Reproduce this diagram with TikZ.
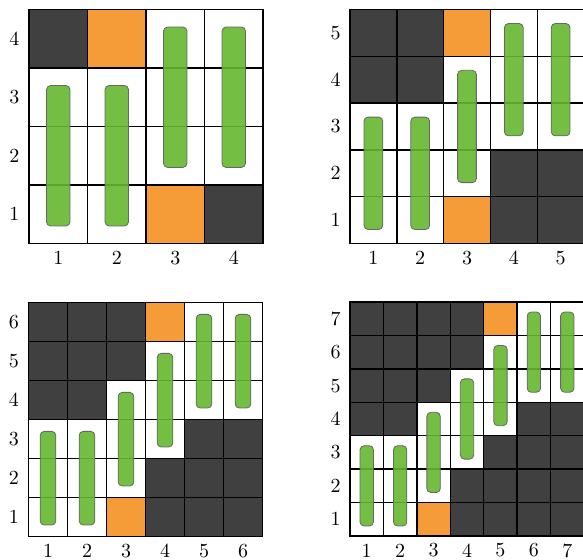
\documentclass[tikz,border=0pt]{standalone}
\usepackage{tikz}
\definecolor{darkcell}{HTML}{404040}
\definecolor{orangecell}{HTML}{F59B38}
\definecolor{barfill}{HTML}{64B82F}
\tikzset{
  cell0/.style={draw=black, fill=white, line width=0.7pt},
  cell1/.style={draw=black, fill=orangecell, line width=0.7pt},
  cell2/.style={draw=black, fill=darkcell, line width=0.7pt},
  greenbar/.style={draw=gray!80!black, fill=barfill, fill opacity=0.9, line width=0.4pt, rounded corners=2pt},
  axislabel/.style={font=\normalsize, inner sep=0pt}
}

\begin{document}
\begin{tikzpicture}[x=0.5pt, y=0.5pt]
  \useasboundingbox (0,0) rectangle (583,560);
  % one board per size: n, lower left corner
  \foreach \n/\ox/\oy in {4/29/316.5, 5/350/316.5, 6/28.5/23.3, 7/350/24}{
    \begin{scope}[shift={(\ox,\oy)}]
      \pgfmathsetmacro\cellsz{234/\n}
      \foreach \c in {1,...,\n}{
        \pgfmathtruncatemacro\srow{\c<=2 ? 1 : (\c>=\n-1 ? \n-2 : \c-1)}
        \foreach \r in {1,...,\n}{
          \pgfmathtruncatemacro\kind{(\r>=\srow && \r<=\srow+2) ? 0 : (((\c==3 && \r==1) || (\c==\n-2 && \r==\n)) ? 1 : 2)}
          \draw[cell\kind] ({(\c-1)*\cellsz},{(\r-1)*\cellsz}) rectangle ({\c*\cellsz},{\r*\cellsz});
        }
        \draw[greenbar] ({(\c-0.7)*\cellsz},{(\srow-0.7)*\cellsz}) rectangle ({(\c-0.3)*\cellsz},{(\srow+1.7)*\cellsz});
        \node[axislabel] (g\n-col\c) at ({(\c-0.5)*\cellsz},-14.5) {\c};
      }
      \foreach \r in {1,...,\n}
        \node[axislabel] (g\n-row\r) at (-14.5,{(\r-0.5)*\cellsz}) {\r};
    \end{scope}
  }
\end{tikzpicture}
\end{document}
